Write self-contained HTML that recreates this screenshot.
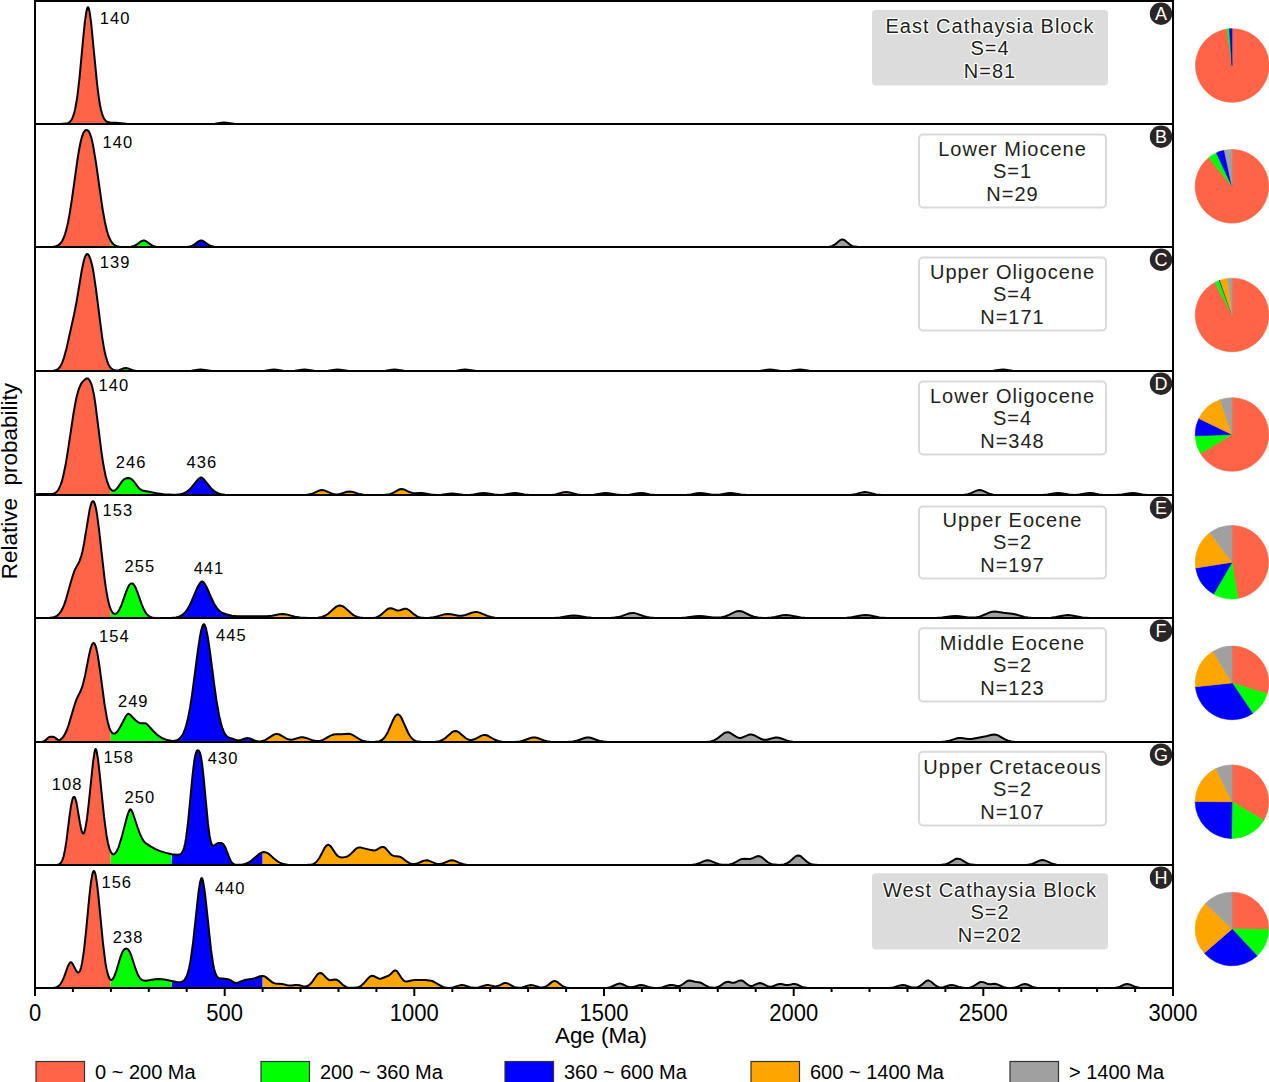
<!DOCTYPE html>
<html><head><meta charset="utf-8"><style>
html,body{margin:0;padding:0;background:#fff;width:1269px;height:1082px;overflow:hidden;position:relative}
svg text{font-family:"Liberation Sans",sans-serif}
</style></head><body>
<svg width="1269" height="1082" viewBox="0 0 1269 1082" style="position:absolute;left:0;top:0">
<polygon fill="#FF6446" points="35,124 35,124 60.5,124 66,123.6 68,123.1 70,121.7 71.5,119.8 72.5,117.9 74,113.7 75,109.8 76.5,101.8 77.5,95.1 79.5,77.8 83.5,35 85,20.8 86.5,10.9 87.5,7.6 88,7.2 88.5,7.8 89.5,11.3 91,21.5 97,83.2 98.5,95.5 100,105 101,109.8 102,113.6 103,116.4 104,118.5 105,120 106.5,121.4 108,122.1 110.5,122.5 110.9,124"/>
<polygon fill="#00FF00" points="110.9,124 111,122.5 116,122.8 125,123.7 130,123.9 171.5,124 171.6,124"/>
<polygon fill="#0000FF" points="171.6,124 172,124 211,123.9 215,123.7 221.5,122.7 224,122.5 226.5,122.7 232.5,123.6 236,123.9 262.5,124 262.6,124"/>
<polygon fill="#FFA500" points="262.6,124 263,124 566,124 566.1,124"/>
<polygon fill="#A0A0A0" points="566.1,124 566.5,124 1173,124 1173,124"/>
<path d="M35,124 L60.5,124 L66,123.6 L68,123.1 L70,121.7 L71.5,119.8 L72.5,117.9 L74,113.7 L75,109.8 L76.5,101.8 L77.5,95.1 L79.5,77.8 L83.5,35 L85,20.8 L86.5,10.9 L87.5,7.6 L88,7.2 L88.5,7.8 L89.5,11.3 L91,21.5 L97,83.2 L98.5,95.5 L100,105 L101,109.8 L102,113.6 L103,116.4 L104,118.5 L105,120 L106.5,121.4 L108,122.1 L110,122.5 L116,122.8 L126.5,123.8 L137.5,124 L210,124 L215,123.7 L221.5,122.7 L224,122.5 L226.5,122.7 L234,123.8 L242,124 L1173,124" fill="none" stroke="#000" stroke-width="2" stroke-linejoin="round"/>
<polygon fill="#FF6446" points="35,247 35,247 50.5,246.9 53.5,246.7 56,246.2 58,245.4 60,243.9 62,241.3 63.5,238.3 65,234.3 66.5,229.1 68,222.5 69.5,214.6 72,198.7 77.5,159.5 80,144.9 81.5,138.4 83,133.8 84.5,131.1 85,130.6 86,130.2 87,130.2 88,130.6 89.5,132.7 91,136.6 92.5,142.5 94,150.2 95.5,159.5 101,198.7 104,217.3 105.5,224.8 107,231 108.5,235.8 110.5,240.4 110.9,247"/>
<polygon fill="#00FF00" points="110.9,247 111,241.3 112.5,243.3 114.5,245.1 117,246.2 120,246.8 128.5,246.9 131,246.7 133,246.3 136,245 141.5,241.1 143.5,240.5 144.5,240.6 146,241.2 151.5,245.1 153,245.8 155,246.5 159.5,247 171.5,247 171.6,247"/>
<polygon fill="#0000FF" points="171.6,247 172,247 185.5,247 190,246.5 192,245.8 193.5,245 199,241.1 201,240.5 202,240.6 203.5,241.2 208,244.4 210,245.6 212,246.4 214.5,246.8 220,247 262.5,247 262.6,247"/>
<polygon fill="#FFA500" points="262.6,247 263,247 566,247 566.1,247"/>
<polygon fill="#A0A0A0" points="566.1,247 566.5,247 826,247 830,246.6 832.5,245.9 835,244.4 840,240.3 841.5,239.6 842.5,239.5 843.5,239.7 845,240.5 849.5,244.3 852,245.9 854.5,246.6 858.5,247 1173,247 1173,247"/>
<path d="M35,247 L50.5,246.9 L53.5,246.7 L56,246.2 L58,245.4 L60,243.9 L62,241.3 L63.5,238.3 L65,234.3 L66.5,229.1 L68,222.5 L69.5,214.6 L72,198.7 L77.5,159.5 L79,150.2 L80.5,142.5 L82,136.6 L83.5,132.7 L85,130.6 L85.5,130.3 L86.5,130.1 L87.5,130.3 L88.5,131.1 L90,133.8 L91.5,138.4 L93,144.9 L96,162.8 L102.5,208.6 L105,222.5 L107,231 L108,234.3 L109.5,238.3 L110.5,240.4 L112,242.7 L113.5,244.3 L115,245.4 L117,246.2 L119.5,246.7 L123,246.9 L128,246.9 L131,246.7 L133,246.3 L136,245 L141.5,241.1 L143.5,240.5 L144.5,240.6 L146,241.2 L150.5,244.4 L152.5,245.6 L154,246.2 L156,246.7 L162,247 L187.5,246.8 L190,246.5 L192.5,245.6 L194.5,244.4 L198.5,241.4 L200,240.7 L201,240.5 L202,240.6 L203.5,241.2 L208.5,244.8 L211,246 L214,246.8 L218.5,247 L824.5,247 L829.5,246.7 L832.5,245.9 L835,244.4 L840,240.3 L841.5,239.6 L842.5,239.5 L843.5,239.7 L845,240.5 L849.5,244.3 L852,245.9 L854.5,246.6 L858.5,247 L1173,247" fill="none" stroke="#000" stroke-width="2" stroke-linejoin="round"/>
<polygon fill="#FF6446" points="35,371 35,371 51,370.9 53.5,370.8 55.5,370.3 57.5,369.4 59,368.1 60.5,366 62,363.1 64,357.6 66.5,348.5 74,314.8 76.5,302.1 81,274.6 83,264.2 84,260.1 85,257 86,255 87,254.1 87.5,254.1 88,254.3 88.5,254.9 89.5,256.7 91,260.9 92.5,267 95,282 101,329.2 103.5,345.6 105,353.1 107,360.6 108.5,364.4 110.5,367.6 110.9,371"/>
<polygon fill="#00FF00" points="110.9,371 111,368.2 112,369.1 113.5,369.9 115,370.4 116.5,370.5 119.5,370.1 124,368.3 126,368 128,368.4 133,370.4 136.5,370.9 171.5,371 171.6,371"/>
<polygon fill="#0000FF" points="171.6,371 172,371 189,370.9 192.5,370.6 198.5,369.6 200.5,369.5 203,369.7 209.5,370.7 214,371 262.5,370.9 262.6,371"/>
<polygon fill="#FFA500" points="262.6,371 263,370.9 266,370.6 271.5,369.7 274,369.5 276.5,369.7 284,370.8 292,370.9 296,370.6 302,369.7 304.5,369.5 307,369.7 315,370.8 324,371 328.5,370.7 335,369.7 337.5,369.5 340,369.7 346.5,370.7 350,370.9 379.5,371 385,370.7 392,369.7 394.5,369.5 397,369.7 403,370.7 407.5,371 449.5,371 456,370.7 462.5,369.7 465,369.5 467.5,369.7 474.5,370.7 479.5,371 566,371 566.1,371"/>
<polygon fill="#A0A0A0" points="566.1,371 566.5,371 754.5,371 760.5,370.8 767.5,369.7 770,369.5 772.5,369.7 779,370.7 784.5,371 790.5,370.8 797.5,369.7 800,369.5 802.5,369.7 809.5,370.8 815.5,371 987.5,371 993.5,370.8 1000.5,369.7 1003,369.5 1005.5,369.7 1012.5,370.8 1018,371 1173,371 1173,371"/>
<path d="M35,371 L51,370.9 L53.5,370.8 L55.5,370.3 L57.5,369.4 L59,368.1 L60.5,366 L62,363.1 L64,357.6 L66.5,348.5 L74,314.8 L76.5,302.1 L81.5,271.8 L83.5,262 L84.5,258.4 L85.5,255.8 L86.5,254.4 L87,254.1 L87.5,254.1 L88,254.3 L89,255.7 L90.5,259.3 L92,264.8 L93.5,272.3 L96,289.3 L102,336.2 L104,348.3 L105.5,355.3 L107.5,362 L108.5,364.4 L110,367 L111,368.2 L112.5,369.4 L114,370.1 L116,370.5 L117.5,370.5 L119,370.3 L124,368.3 L126,368 L128,368.4 L132,370 L134,370.6 L136.5,370.9 L141,371 L187.5,370.9 L191.5,370.7 L198,369.7 L200.5,369.5 L203,369.7 L210.5,370.8 L218,371 L261,370.9 L265,370.7 L271.5,369.7 L274,369.5 L276.5,369.7 L283,370.7 L289,371 L295,370.8 L302,369.7 L304.5,369.5 L307,369.7 L314,370.8 L320.5,371 L328,370.8 L335,369.7 L337.5,369.5 L340,369.7 L347.5,370.8 L354.5,371 L382,370.9 L385.5,370.7 L392,369.7 L394.5,369.5 L397,369.7 L404,370.8 L411,371 L452.5,370.9 L456.5,370.7 L462.5,369.7 L465,369.5 L467.5,369.7 L475,370.8 L481.5,371 L754,371 L760.5,370.8 L767.5,369.7 L770,369.5 L772.5,369.7 L779.5,370.8 L785,371 L790.5,370.8 L797.5,369.7 L800,369.5 L802.5,369.7 L809.5,370.8 L815.5,371 L985,371 L993,370.8 L1000.5,369.7 L1003,369.5 L1005.5,369.7 L1012.5,370.8 L1018,371 L1173,371" fill="none" stroke="#000" stroke-width="2" stroke-linejoin="round"/>
<polygon fill="#FF6446" points="35,495 35,494.2 40.5,493.9 51,494.1 53.5,493.7 55.5,492.8 57,491.5 58.5,489.5 60,486.5 61.5,482.4 63,477.1 65.5,465.3 68,450.2 73.5,413.5 75.5,402.2 77,395.3 79,388.4 81,384 82.5,381.9 84.5,379.9 86,378.7 87,378.4 88,378.6 89,379.5 90.5,382 92,386.2 93.5,392.4 95,401.3 100.5,445.1 103.5,465.3 105,473.1 107,481.1 108.5,485.3 109.5,487.4 110.5,489 110.9,495"/>
<polygon fill="#00FF00" points="110.9,495 111,489.6 112,490.4 113,490.8 114,490.8 115,490.4 117,488.5 121.5,482.1 123.5,479.8 124.5,479 126,478.3 129,478 131,478.7 132.5,479.9 134,481.7 138.5,487.6 140,489.1 142,490.3 143.5,490.8 159.5,493.7 165.5,494.4 171.5,494.7 171.6,495"/>
<polygon fill="#0000FF" points="171.6,495 172,494.7 177,494.6 180.5,494.2 183.5,493.4 186,492.2 188.5,490.5 190.5,488.6 197,480.5 198.5,478.9 200,477.8 201,477.5 202.5,478.1 204,479.5 210,487 213,490.1 216,492.3 219.5,493.8 223.5,494.6 228.5,494.9 262.5,495 262.6,495"/>
<polygon fill="#FFA500" points="262.6,495 263,495 300.5,495 307,494.8 309.5,494.4 311.5,493.9 313.5,493.2 319,490.6 320.5,490.2 322,490 323.5,490.2 325,490.6 332,493.7 335.5,494.4 337.5,494.4 339.5,494.1 347,491.8 350,491.5 353,492 359.5,494.1 363.5,494.8 370,495 384.5,494.9 388,494.6 391,493.8 393.5,492.6 398.5,489.8 400,489.2 401.5,489 404,489.4 410,492.3 412.5,493 414.5,493.2 419.5,493 422,493 430.5,494.5 435.5,494.9 441,494.7 449,493.7 452,493.5 455,493.7 463,494.7 469.5,494.9 473.5,494.5 480.5,493.3 483.5,493 486.5,493.2 494.5,494.6 500.5,494.9 504.5,494.6 512,493.2 515,493 517.5,493.2 524.5,494.4 528.5,494.8 549,495 552.5,494.8 555.5,494.4 563,492.4 566,492 566.1,495"/>
<polygon fill="#A0A0A0" points="566.1,495 566.5,492 569.5,492.4 575,493.9 578,494.5 581,494.8 585.5,495 594,494.7 603,493.2 605.5,493 608.5,493.2 616.5,494.6 621,494.9 625.5,494.9 629.5,494.7 638,493.2 641,493 644,493.2 650,494.4 654,494.8 671.5,495 687,494.8 691,494.4 697,493.2 700,493 703,493.2 711,494.6 716.5,494.8 720.5,494.4 727.5,493.2 730,493 733,493.2 741,494.6 747,495 846,495 850.5,494.8 853.5,494.5 856.5,493.9 862,492.4 865,492 868,492.4 876,494.4 881.5,494.9 958,495 964,494.8 967.5,494.3 970.5,493.4 976.5,490.6 978,490.2 979.5,490 981,490.2 982.5,490.6 988,493.2 990.5,494.1 993.5,494.7 997.5,494.9 1042.5,494.9 1047.5,494.6 1055,493.2 1058,493 1061,493.2 1069,494.6 1075,494.9 1079.5,494.6 1087,493.2 1090,493 1093,493.2 1099,494.4 1102.5,494.8 1107,495 1115.5,495 1122,494.6 1130,493.2 1133,493 1135.5,493.2 1142.5,494.4 1147,494.9 1173,495 1173,495"/>
<path d="M35,494.2 L40.5,493.9 L51,494.1 L53.5,493.7 L55.5,492.8 L57,491.5 L58.5,489.5 L60,486.5 L61.5,482.4 L63,477.1 L65.5,465.3 L68,450.2 L73.5,413.5 L75.5,402.2 L77,395.3 L79,388.4 L81,384 L82.5,381.9 L84.5,379.9 L86,378.7 L87,378.4 L88,378.6 L89,379.5 L90.5,382 L91.5,384.6 L92.5,388.1 L94,394.9 L95.5,405 L101.5,452.4 L103.5,465.3 L105.5,475.4 L107,481.1 L109,486.4 L110,488.3 L111,489.6 L112,490.4 L113,490.8 L114.5,490.6 L115.5,490 L116.5,489.1 L118,487.2 L122,481.4 L124,479.3 L126,478.3 L128.5,478 L130.5,478.5 L132,479.5 L134,481.7 L137.5,486.4 L139,488.2 L140.5,489.5 L142.5,490.5 L156.5,493.2 L163.5,494.2 L173,494.7 L177,494.6 L180,494.3 L182.5,493.7 L184.5,493 L186.5,491.9 L188,490.9 L191.5,487.5 L198,479.4 L199.5,478.1 L201,477.5 L202,477.8 L203.5,479 L211,488.1 L213,490.1 L215.5,492 L218.5,493.5 L221.5,494.3 L225,494.7 L230,494.9 L305.5,494.9 L308.5,494.6 L311,494.1 L313.5,493.2 L319,490.6 L320.5,490.2 L322,490 L323.5,490.2 L325,490.6 L332,493.7 L335.5,494.4 L337.5,494.4 L339.5,494.1 L347,491.8 L350,491.5 L353,492 L359.5,494.1 L363.5,494.8 L369.5,495 L384,494.9 L387.5,494.6 L390.5,493.9 L393,492.9 L398.5,489.8 L400,489.2 L401.5,489 L404,489.4 L410,492.3 L412.5,493 L414.5,493.2 L419.5,493 L422,493 L431,494.6 L436.5,494.9 L441.5,494.7 L449,493.7 L452,493.5 L455,493.7 L463,494.7 L469.5,494.9 L473.5,494.5 L480.5,493.3 L483.5,493 L486.5,493.2 L494.5,494.6 L500.5,494.9 L504.5,494.6 L512,493.2 L515,493 L517.5,493.2 L524.5,494.4 L528.5,494.8 L549,495 L552.5,494.8 L555.5,494.4 L563.5,492.3 L566.5,492 L569.5,492.4 L577.5,494.5 L580.5,494.8 L585,495 L594,494.7 L603,493.2 L605.5,493 L608.5,493.2 L616.5,494.6 L621,494.9 L625.5,494.9 L629.5,494.7 L638,493.2 L641,493 L644,493.2 L650,494.4 L654,494.8 L671.5,495 L687,494.8 L691,494.4 L697,493.2 L700,493 L703,493.2 L711,494.6 L716.5,494.8 L720.5,494.4 L727.5,493.2 L730,493 L733,493.2 L741,494.6 L747,495 L845,495 L850,494.9 L853.5,494.5 L856.5,493.9 L862,492.4 L865,492 L868,492.4 L876,494.4 L881.5,494.9 L959,495 L964.5,494.8 L968,494.2 L971,493.2 L976.5,490.6 L978,490.2 L979.5,490 L981,490.2 L982.5,490.6 L988,493.2 L990.5,494.1 L993.5,494.7 L997.5,494.9 L1042.5,494.9 L1047.5,494.6 L1055,493.2 L1058,493 L1061,493.2 L1069,494.6 L1075,494.9 L1079.5,494.6 L1087,493.2 L1090,493 L1093,493.2 L1099,494.4 L1102.5,494.8 L1107,495 L1115.5,495 L1122,494.6 L1130,493.2 L1133,493 L1135.5,493.2 L1142.5,494.4 L1147,494.9 L1173,495" fill="none" stroke="#000" stroke-width="2" stroke-linejoin="round"/>
<polygon fill="#FF6446" points="35,618 35,618 49,617.9 52,617.6 54.5,617 57,615.8 59,614 61,611.3 62.5,608.6 64,605.1 66,599.3 72,578.1 74,572 75.5,568.4 78.5,563.2 79.5,561.1 81.5,555.2 82.5,551.2 84,543.7 89.5,510.3 90.5,506 91.5,502.9 92.5,501.3 93,501.2 93.5,501.4 94,502 95,504.4 96,508.5 97,514.2 99,529.3 103.5,570 105.5,585.5 108,599.9 109,604.1 110.5,608.8 110.9,618"/>
<polygon fill="#00FF00" points="110.9,618 111,610 112.5,612.5 113.5,613.4 114.5,613.9 116,613.6 117,612.9 118,611.8 119.5,609.4 121,606.1 126,592.1 128,587.3 129,585.4 130,584.2 131,583.5 132,583.4 133,583.8 133.5,584.3 134.5,585.6 135.5,587.5 137,591.1 141,602.6 143,607.7 145.5,612.4 146.5,613.8 148,615.4 150.5,616.9 152,617.4 154,617.8 160,618 171.5,617.8 171.6,618"/>
<polygon fill="#0000FF" points="171.6,618 172,617.8 176.5,617.3 180,616.2 183,614.4 185.5,611.9 187.5,609.2 190,604.6 192,600.3 196.5,589.4 198.5,585.2 200.5,582.3 201.5,581.6 202,581.4 202.5,581.5 203.5,582.2 205.5,585 207.5,589 212.5,600.5 215.5,606.1 217,608.3 218.5,610 220,611.4 222,612.7 224.5,613.9 227.5,614.8 231.5,615.6 235.5,616.1 239.5,616.3 262.5,616.2 262.6,618"/>
<polygon fill="#FFA500" points="262.6,618 263,616.2 270,615.9 279.5,614.2 283,614 286.5,614.4 295,616.8 300,617.6 304,617.9 310,618 315.5,617.9 319,617.6 322.5,616.8 325.5,615.5 328.5,613.5 334,608.5 336,606.9 338,605.8 340,605.5 342,605.9 344,607 351.5,613.6 355,615.9 357,616.7 359,617.3 364,617.9 372.5,617.9 375,617.6 377.5,616.9 379.5,615.9 381,614.8 386,610.3 387.5,609.2 389,608.4 390.5,608.2 392.5,608.6 396.5,610.2 398,610.5 400,610.2 404.5,608.8 406,608.7 407,609 409.5,610.4 414.5,614.7 417,616.3 420,617.4 423.5,617.8 428.5,617.8 433,617.3 436.5,616.6 443.5,614.6 447,614 451,614.2 458.5,615.7 462,615.8 465.5,615 472.5,612.5 475.5,612 477.5,612.1 480,612.8 487,615.7 490,616.8 493.5,617.5 497.5,617.8 506.5,618 552,617.9 559,617.6 566,616.5 566.1,618"/>
<polygon fill="#A0A0A0" points="566.1,618 566.5,616.4 571,615.7 575,615.5 578.5,615.9 587,617.3 591.5,617.8 600.5,618 611.5,617.8 615,617.6 618.5,616.9 621.5,616.1 628.5,613.6 630.5,613.2 632.5,613 634.5,613.1 636.5,613.6 644,616.2 647,617 650,617.5 653.5,617.8 663.5,618 681,617.9 686,617.5 695.5,616.3 699.5,616 703.5,616.2 713,617.5 718,617.6 721.5,617.3 725,616.5 728,615.3 735,611.9 737,611.2 739,611 741,611.2 743,611.8 750.5,615.5 754,616.8 757.5,617.5 762,617.9 766.5,617.8 771,617.5 775,616.9 782.5,615.3 786.5,615 790.5,615.4 801,617.4 805,617.8 810,618 838,618 846.5,617.8 851.5,617.3 861,615.4 865,615 869,615.3 879.5,617.4 887,617.9 936,617.9 942,617.5 951.5,616.3 955.5,616 959.5,616.2 968.5,617.4 972.5,617.6 976,617.3 979,616.7 982,615.7 990,612.3 992.5,611.7 994.5,611.6 997,611.8 1003.5,612.8 1012,613.7 1015,614.3 1024.5,617 1028,617.6 1032.5,617.9 1044,618 1051,617.7 1056,617 1064,615.4 1068,615 1072,615.4 1082.5,617.4 1089.5,617.9 1173,618 1173,618"/>
<path d="M35,618 L49,617.9 L52,617.6 L54.5,617 L57,615.8 L59,614 L61,611.3 L62.5,608.6 L64,605.1 L66,599.3 L72,578.1 L74,572 L75.5,568.4 L78.5,563.2 L79.5,561.1 L81.5,555.2 L82.5,551.2 L84,543.7 L89.5,510.3 L90.5,506 L91.5,502.9 L92.5,501.3 L93,501.2 L93.5,501.4 L94,502 L95,504.4 L96,508.5 L97,514.2 L99,529.3 L104.5,578.1 L106,588.8 L107.5,597.5 L109,604.1 L110,607.4 L111,610 L112.5,612.5 L113.5,613.4 L114.5,613.9 L115.5,613.8 L116.5,613.3 L117.5,612.4 L119,610.3 L121.5,604.9 L126,592.1 L128,587.3 L129,585.4 L130,584.2 L131,583.5 L132,583.4 L133,583.8 L133.5,584.3 L134.5,585.6 L135.5,587.5 L137.5,592.4 L141.5,603.9 L144,609.8 L146,613.2 L147,614.4 L148.5,615.8 L150,616.7 L152,617.4 L154,617.8 L157,617.9 L172,617.8 L176,617.4 L179,616.6 L181.5,615.4 L183.5,614 L185.5,611.9 L187.5,609.2 L189,606.6 L191,602.5 L198,586.2 L200,582.9 L201,581.9 L202,581.4 L202.5,581.5 L203.5,582.2 L205.5,585 L207,587.9 L211.5,598.3 L214,603.5 L216.5,607.6 L219,610.5 L222,612.7 L226,614.3 L232,615.7 L237.5,616.3 L268,616.1 L272,615.7 L279.5,614.2 L282.5,613.9 L286.5,614.4 L295,616.8 L300,617.6 L308.5,618 L318,617.7 L322,617 L325.5,615.5 L328.5,613.5 L334,608.5 L336,606.9 L338,605.8 L340,605.5 L342,605.9 L344,607 L351.5,613.6 L353.5,615.1 L355.5,616.1 L357.5,616.9 L360,617.5 L363,617.8 L367,618 L374,617.7 L376,617.4 L378,616.7 L381,614.8 L387,609.5 L389,608.4 L390.5,608.2 L392.5,608.6 L396.5,610.2 L398,610.5 L400,610.2 L404.5,608.8 L406,608.7 L407,609 L409.5,610.4 L414.5,614.7 L417,616.3 L418.5,617 L420.5,617.5 L425,617.9 L429.5,617.7 L433.5,617.2 L437,616.4 L443.5,614.6 L447,614 L451,614.2 L458.5,615.7 L462,615.8 L465.5,615 L472.5,612.5 L475.5,612 L477.5,612.1 L479.5,612.6 L487.5,615.9 L491,617 L495,617.7 L500,617.9 L554,617.9 L560,617.5 L570,615.8 L574,615.5 L577.5,615.7 L586.5,617.3 L591.5,617.8 L599.5,618 L610.5,617.9 L614.5,617.6 L618,617.1 L621.5,616.1 L628.5,613.6 L630.5,613.2 L632.5,613 L634.5,613.1 L636.5,613.6 L644,616.2 L647,617 L650,617.5 L653.5,617.8 L663.5,618 L681,617.9 L686,617.5 L695.5,616.3 L699.5,616 L703.5,616.2 L713,617.5 L717.5,617.6 L721.5,617.3 L725,616.5 L728,615.3 L735,611.9 L737,611.2 L739,611 L741,611.2 L743,611.8 L750.5,615.5 L754,616.8 L758,617.6 L763,617.9 L767.5,617.8 L771.5,617.5 L775,616.9 L782.5,615.3 L786.5,615 L790.5,615.4 L801,617.4 L805,617.8 L810,618 L838,618 L846.5,617.8 L851.5,617.3 L861,615.4 L865,615 L869,615.3 L879.5,617.4 L887,617.9 L936,617.9 L942,617.5 L951.5,616.3 L955.5,616 L959.5,616.2 L968.5,617.4 L973,617.6 L976.5,617.3 L979.5,616.6 L982.5,615.5 L990,612.3 L992.5,611.7 L994.5,611.6 L997,611.8 L1003.5,612.8 L1012,613.7 L1015,614.3 L1024.5,617 L1028,617.6 L1032.5,617.9 L1044,618 L1051,617.7 L1056,617 L1064,615.4 L1068,615 L1072,615.4 L1082.5,617.4 L1089.5,617.9 L1173,618" fill="none" stroke="#000" stroke-width="2" stroke-linejoin="round"/>
<polygon fill="#FF6446" points="35,742 35,742 41.5,742 43.5,741.6 45,740.7 48.5,737.4 49.5,737 50.5,736.8 52.5,736.7 54,737 55,737.6 57.5,739.6 58.5,740 59.5,740 60.5,739.6 62,738.3 63.5,736.5 64.5,734.9 66.5,730.8 68.5,725.4 74,706.8 76,700.7 77.5,697.1 80.5,691.3 82.5,685.9 85,675.9 89,655.4 90.5,648.9 92,644.5 93,643.2 93.5,643 94,643.2 94.5,643.6 95.5,645.6 96.5,649.1 97.5,653.8 99.5,666.5 103.5,696.9 105.5,710.4 107,718.6 108,723 109,726.6 110.5,730.5 110.9,742"/>
<polygon fill="#00FF00" points="110.9,742 111,731.4 112,732.7 113.5,733.6 115,733.4 116.5,732.3 118,730.5 119.5,728.2 126,716 127.5,714.1 128,713.8 128.5,713.8 129.5,714.3 130.5,715 135.5,720.3 138,722.2 139.5,722.9 141,723.2 145,723.3 146,723.5 148,725.3 155,732.9 158,735.5 160.5,737.2 163,738.6 166,739.8 169,740.5 171.5,740.8 171.6,742"/>
<polygon fill="#0000FF" points="171.6,742 172,740.9 174.5,740.8 177,740.1 179,739 180.5,737.6 182,735.6 183.5,732.9 185,729.1 186.5,724.3 189,713.3 191.5,698.6 198,649.6 200,636.5 201,631.3 202,627.4 203,624.9 203.5,624.3 204,624.2 204.5,624.7 205,625.5 206,628.5 208,638.3 210,651.9 215.5,693.9 218.5,712.4 221,723.6 222.5,728.5 224,732.2 226,735.4 228,737.1 237,740.2 238.5,740.4 240,740.2 245,738.4 247.5,738 249.5,738.4 254.5,740.5 257,741.2 259.5,741.4 262.5,741 262.6,742"/>
<polygon fill="#FFA500" points="262.6,742 263,740.8 266.5,739.3 273.5,734.8 275,734.3 276.5,734 278,734.1 280,734.8 286.5,738.6 289.5,739.6 291,739.7 293,739.5 299.5,737.6 301.5,737.3 303,737.3 306,737.9 313.5,740.6 315.5,741 317.5,741.1 320,740.9 322.5,740.1 325,738.9 330.5,735.6 333.5,734.5 336,734.2 341.5,734.3 348,733.8 350.5,734.1 352.5,734.9 360,739.5 362,740.4 364,741.1 367,741.6 370.5,741.9 375,741.9 378,741.5 380,740.9 382,739.8 383.5,738.6 385,736.8 386.5,734.5 388,731.6 392.5,721.3 394.5,717.3 395.5,715.9 396.5,714.9 397.5,714.4 398,714.4 398.5,714.5 399.5,715.2 400.5,716.4 401.5,718 403,721.1 407.5,731.4 409,734.3 410.5,736.7 412,738.5 414,740.1 416,741.1 418,741.6 422.5,741.9 432,742 436.5,741.7 439.5,741.1 442,740.2 444.5,738.7 452,732.2 454,731.2 455.5,731 457,731.3 459,732.4 464.5,737.2 466.5,738.7 468.5,739.6 470,740 471.5,740 473.5,739.6 475.5,738.8 481,735.8 483,735.2 484.5,735 486,735.2 488,735.8 494,739.2 497,740.6 500,741.4 503,741.8 512.5,742 519,741.5 523.5,740.5 530.5,738 532.5,737.6 534,737.5 535.5,737.6 537.5,738 544.5,740.5 549,741.5 554.5,741.9 566,742 566.1,742"/>
<polygon fill="#A0A0A0" points="566.1,742 566.5,742 571.5,741.7 575,741.2 578,740.4 584.5,738 586.5,737.6 588,737.5 589.5,737.6 591.5,738 597.5,740.2 600.5,741.1 603.5,741.6 607.5,741.9 697,742 707,741.9 711,741.3 714.5,740.2 717.5,738.3 722,734.6 724,733.2 726,732.4 727.5,732.2 728.5,732.3 730,732.8 736,736.7 737.5,737.4 739,737.8 740.5,737.9 742,737.6 748.5,734.8 750,734.5 751.5,734.5 754,735.2 760.5,738.7 763.5,739.7 765,739.8 767,739.7 773.5,737.9 775.5,737.5 777,737.5 780,738 786.5,740.4 789.5,741.2 793,741.7 797.5,742 941,741.9 945,741.6 948,741.1 956,738.6 958.5,738.1 961.5,738 968,739 971.5,739 979.5,737.4 986,736.3 992,734.8 994,734.6 996,734.8 998,735.4 1005,739.4 1008,740.7 1011.5,741.5 1015.5,741.9 1173,742 1173,742"/>
<path d="M35,742 L41.5,742 L43.5,741.6 L45,740.7 L48.5,737.4 L49.5,737 L50.5,736.8 L52.5,736.7 L54,737 L55,737.6 L57.5,739.6 L58.5,740 L59.5,740 L60.5,739.6 L62,738.3 L63.5,736.5 L64.5,734.9 L66.5,730.8 L68.5,725.4 L74,706.8 L76,700.7 L77.5,697.1 L80.5,691.3 L82.5,685.9 L85,675.9 L89,655.4 L90.5,648.9 L92,644.5 L93,643.2 L93.5,643 L94,643.2 L94.5,643.6 L95.5,645.6 L96.5,649.1 L97.5,653.8 L99.5,666.5 L104.5,704 L107,718.6 L108,723 L109.5,728.1 L110.5,730.5 L112,732.7 L113,733.5 L114.5,733.6 L115.5,733.2 L117,731.8 L118.5,729.8 L120,727.3 L126,716 L127.5,714.1 L128,713.8 L128.5,713.8 L129.5,714.3 L130.5,715 L135.5,720.3 L138,722.2 L139.5,722.9 L141,723.2 L145,723.3 L146,723.5 L147.5,724.8 L153,730.8 L156,733.8 L159,736.2 L162.5,738.3 L167,740.1 L171.5,740.8 L173.5,740.9 L175.5,740.6 L177,740.1 L178.5,739.3 L180,738.1 L181,737 L182.5,734.8 L183.5,732.9 L185,729.1 L186,726.1 L188,718.2 L190,707.9 L192,695.2 L198,649.6 L200,636.5 L201,631.3 L202,627.4 L203,624.9 L203.5,624.3 L204,624.2 L204.5,624.7 L205,625.5 L206,628.5 L208,638.3 L210,651.9 L214.5,686.7 L216.5,700.7 L219,715 L221.5,725.4 L222.5,728.5 L224,732.2 L225.5,734.8 L227,736.4 L229,737.6 L232.5,738.6 L236.5,740.1 L238,740.4 L240.5,740.1 L245,738.4 L247.5,738 L250,738.5 L254.5,740.5 L256.5,741.1 L258.5,741.4 L261,741.3 L263.5,740.7 L265.5,739.8 L273.5,734.8 L275.5,734.1 L277,734 L278.5,734.2 L280,734.8 L286.5,738.6 L289.5,739.6 L291,739.7 L293,739.5 L299.5,737.6 L301.5,737.3 L303,737.3 L306,737.9 L313.5,740.6 L316,741 L318,741.1 L320.5,740.7 L323,739.9 L330.5,735.6 L333.5,734.5 L336,734.2 L341.5,734.3 L348,733.8 L350.5,734.1 L352.5,734.9 L360,739.5 L362,740.4 L364,741.1 L366.5,741.6 L370,741.9 L374.5,741.9 L377.5,741.6 L379.5,741.1 L381.5,740.2 L383.5,738.6 L385,736.8 L386.5,734.5 L388,731.6 L392.5,721.3 L394.5,717.3 L395.5,715.9 L396.5,714.9 L397.5,714.4 L398,714.4 L398.5,714.5 L399.5,715.2 L400.5,716.4 L401.5,718 L408,732.5 L410,736 L411.5,737.9 L413.5,739.8 L415.5,740.9 L418,741.6 L422,741.9 L434.5,741.9 L437.5,741.6 L440,741 L442.5,739.9 L444.5,738.7 L452,732.2 L454,731.2 L455.5,731 L457,731.3 L458.5,732.1 L465.5,738 L467.5,739.2 L469.5,739.9 L471.5,740 L473.5,739.6 L475.5,738.8 L481.5,735.6 L483.5,735.1 L485,735 L486.5,735.3 L488,735.8 L494.5,739.5 L498,740.9 L502,741.7 L507,742 L515,741.9 L520,741.4 L523.5,740.5 L530.5,738 L532.5,737.6 L534,737.5 L535.5,737.6 L537.5,738 L544,740.4 L547,741.2 L550.5,741.7 L554.5,741.9 L567,741.9 L573,741.5 L577.5,740.5 L584.5,738 L586.5,737.6 L588,737.5 L589.5,737.6 L591.5,738 L597.5,740.2 L600.5,741.1 L603.5,741.6 L607.5,741.9 L706,741.9 L710.5,741.4 L714,740.4 L717,738.7 L724,733.2 L726,732.4 L727.5,732.2 L728.5,732.3 L730,732.8 L736,736.7 L737.5,737.4 L739,737.8 L740.5,737.9 L742,737.6 L748.5,734.8 L750,734.5 L751.5,734.5 L754,735.2 L760.5,738.7 L763.5,739.7 L765,739.8 L767,739.7 L773.5,737.9 L775.5,737.5 L777,737.5 L780,738 L786.5,740.4 L789.5,741.2 L793,741.7 L797.5,742 L941,741.9 L945,741.6 L948,741.1 L956,738.6 L958.5,738.1 L961.5,738 L968,739 L971.5,739 L979.5,737.4 L986,736.3 L992,734.8 L994,734.6 L996,734.8 L998,735.4 L1005,739.4 L1008,740.7 L1011.5,741.5 L1015.5,741.9 L1173,742" fill="none" stroke="#000" stroke-width="2" stroke-linejoin="round"/>
<polygon fill="#FF6446" points="35,865 35,865 53.5,865 57,864.8 58.5,864.5 59.5,864.1 60.5,863.2 61.5,861.9 62.5,859.8 63.5,856.8 65,850 66.5,840.4 69.5,816.3 71,805.8 72.5,799.1 73,797.9 73.5,797.2 74,797 74.5,797.1 75,797.7 75.5,798.9 76.5,802.6 80,823.4 81.5,830.5 82.5,833.1 83,833.5 83.5,833.5 84,832.9 84.5,831.7 85.5,827.8 87,818.4 88.5,805.8 93,762.3 94.5,752.3 95,750.2 95.5,749.1 96,749.2 96.5,750.6 98,759.3 99.5,772.3 103.5,812 106,832 108,843.2 109,847.2 110.5,851.4 110.9,865"/>
<polygon fill="#00FF00" points="110.9,865 111,852.4 111.5,853.1 112.5,854.1 113,854.3 114,854.2 115.5,853 116.5,851.6 117.5,849.7 119,846 121,839.7 127.5,815.1 129,811 130,809.4 130.5,809.3 131.5,810.3 133,813.5 138,828.7 140.5,835.3 142.5,839.3 144.5,842.1 147,844.2 152.5,847.6 156.5,849.6 163.5,852.2 171.5,854.2 171.6,865"/>
<polygon fill="#0000FF" points="171.6,865 172,854.3 178,854.8 179.5,854.6 180.5,854.2 181.5,853.3 182.5,851.9 183.5,849.5 184.5,846.1 186,838.4 187.5,827.3 192.5,775.8 194,763 195,756.8 196,752.7 197,750.6 197.5,750.3 198,750.2 199,750.9 200,752.9 201,757 202,763.2 203.5,776.1 207,814.1 208.5,828.2 210,838.3 211,842.5 212,844.8 212.5,845.4 213.5,845.7 214.5,845.3 217,843.5 218,843 219,842.9 221.5,843.1 223,843.9 224,845.1 225.5,847.8 229.5,858.2 231,861.3 232,862.8 233,863.7 234,864.3 235.5,864.8 238.5,864.8 242,864.5 245,863.9 247.5,863 249.5,862 251.5,860.6 259.5,853.7 261,852.8 262.5,852.2 262.6,865"/>
<polygon fill="#FFA500" points="262.6,865 263,852.1 264,852 265.5,852.2 268,853.4 270,854.9 276,860.2 278,861.7 280,862.8 282,863.6 284.5,864.3 290,864.9 308.5,864.9 311.5,864.5 314,863.7 316,862.3 318,860 320,856.8 323.5,849.9 325,847.3 326.5,845.5 328,844.8 329,845 330.5,846.1 332,848.1 335.5,853.5 337.5,855.8 339.5,857 341.5,857.4 343.5,857.3 345.5,857 347,856.5 348.5,855.8 351,853.8 355.5,849.2 357,848.1 358.5,847.6 359.5,847.5 361,847.6 371.5,850.1 374,850.4 375.5,850.2 376.5,849.8 381,847.2 382,846.9 383,846.9 384,847.2 385.5,848.2 390,853.4 391.5,854.8 392.5,855.4 394,856 398.5,856.4 400.5,857 402.5,858.2 406.5,861.3 408.5,862.7 410.5,863.6 413,864.1 414.5,864.1 416.5,863.7 418.5,863 423.5,860.9 425,860.4 426.5,860.3 428,860.4 429.5,860.8 434.5,863 436.5,863.7 438.5,864 440.5,863.9 443.5,863.2 449.5,860.7 452,860.3 453.5,860.4 455,860.9 460.5,863.3 463,864.1 465.5,864.6 469,864.9 566,865 566.1,865"/>
<polygon fill="#A0A0A0" points="566.1,865 566.5,865 690,864.9 693.5,864.7 696.5,864.2 699,863.3 704.5,860.9 706,860.5 707.5,860.3 709,860.4 710.5,860.8 716,863.2 719,864.2 722.5,864.8 726.5,864.8 729.5,864.5 732.5,863.7 735,862.5 739.5,859.9 742,858.9 744,858.7 748.5,859.1 750.5,858.9 752.5,858.3 756.5,856.4 758.5,856.1 760,856.4 761.5,857.1 767.5,862 770.5,863.7 772.5,864.4 774.5,864.7 780,864.9 784,864.4 787,863.3 789.5,861.7 795,856.8 796.5,855.9 798,855.5 799.5,855.7 801,856.5 807,861.8 810,863.6 811.5,864.2 813.5,864.6 818,865 940.5,864.9 944,864.6 946.5,863.9 949,862.9 955,859.3 956.5,858.8 958,858.7 959.5,858.9 961,859.5 966.5,862.8 969,863.9 972,864.6 976,864.9 1019.5,865 1027,864.8 1029.5,864.5 1032,863.9 1034,863.2 1039.5,860.6 1041,860.2 1042.5,860 1044,860.2 1045.5,860.6 1051,863.2 1053.5,864.1 1056.5,864.7 1060,864.9 1173,865 1173,865"/>
<path d="M35,865 L53.5,865 L57,864.8 L58.5,864.5 L59.5,864.1 L60.5,863.2 L61.5,861.9 L62.5,859.8 L63.5,856.8 L65,850 L66.5,840.4 L69.5,816.3 L71,805.8 L72.5,799.1 L73,797.9 L73.5,797.2 L74,797 L74.5,797.1 L75,797.7 L75.5,798.9 L76.5,802.6 L80,823.4 L81.5,830.5 L82.5,833.1 L83,833.5 L83.5,833.5 L84,832.9 L84.5,831.7 L85.5,827.8 L87,818.4 L88.5,805.8 L93,762.3 L94.5,752.3 L95,750.2 L95.5,749.1 L96,749.2 L96.5,750.6 L98,759.3 L99.5,772.3 L104,816.4 L106.5,835.2 L108,843.2 L109.5,848.8 L111,852.4 L112,853.7 L113,854.3 L114,854.2 L115.5,853 L117,850.7 L118.5,847.3 L121.5,837.9 L127.5,815.1 L129,811 L130,809.4 L130.5,809.3 L131.5,810.3 L133,813.5 L138,828.7 L140.5,835.3 L143,840.1 L144,841.5 L145.5,843.1 L151,846.7 L155,848.9 L159.5,850.9 L165,852.6 L171.5,854.2 L177,854.8 L179.5,854.6 L180.5,854.2 L181.5,853.3 L183,850.8 L184,848 L185,843.9 L186,838.4 L188,822.8 L192.5,775.8 L194,763 L195,756.8 L196,752.7 L197,750.6 L197.5,750.3 L198,750.2 L199,750.9 L200,752.9 L201,757 L202,763.2 L203.5,776.1 L208,823.9 L209.5,835.4 L211,842.5 L212,844.8 L213,845.7 L214,845.6 L217,843.5 L218.5,842.9 L221.5,843.1 L223,843.9 L224,845.1 L225.5,847.8 L229.5,858.2 L231,861.3 L232,862.8 L233,863.7 L234.5,864.5 L236,864.8 L239,864.8 L242.5,864.5 L245,863.9 L247.5,863 L249.5,862 L251.5,860.6 L258,854.9 L260,853.4 L262,852.4 L264,852 L266,852.4 L268,853.4 L270,854.9 L275,859.4 L277.5,861.3 L280.5,863 L283.5,864.1 L287.5,864.7 L292.5,865 L306.5,865 L311.5,864.5 L313,864.1 L314.5,863.4 L316,862.3 L317,861.3 L319.5,857.7 L325,847.3 L326.5,845.5 L328,844.8 L329,845 L330.5,846.1 L332,848.1 L335.5,853.5 L337.5,855.8 L339.5,857 L341.5,857.4 L343.5,857.3 L345.5,857 L347,856.5 L348.5,855.8 L351,853.8 L355.5,849.2 L357,848.1 L358.5,847.6 L359.5,847.5 L361,847.6 L371.5,850.1 L374,850.4 L375.5,850.2 L376.5,849.8 L381,847.2 L382,846.9 L383,846.9 L384,847.2 L385.5,848.2 L390,853.4 L391.5,854.8 L392.5,855.4 L394,856 L398.5,856.4 L400.5,857 L402.5,858.2 L407,861.7 L409,862.9 L411,863.7 L413.5,864.1 L415,864 L417,863.6 L423,861 L425.5,860.4 L427,860.3 L428.5,860.6 L435.5,863.4 L437.5,863.9 L439.5,864 L442.5,863.5 L449,860.8 L450.5,860.4 L452,860.3 L453.5,860.4 L455,860.9 L460.5,863.3 L463.5,864.3 L466.5,864.7 L470.5,865 L688,865 L692.5,864.8 L696,864.3 L699,863.3 L704.5,860.9 L706,860.5 L707.5,860.3 L709,860.4 L710.5,860.8 L716,863.2 L719,864.2 L722,864.7 L726,864.8 L729.5,864.5 L732.5,863.7 L735,862.5 L739.5,859.9 L742,858.9 L744,858.7 L748.5,859.1 L750.5,858.9 L752.5,858.3 L756.5,856.4 L758.5,856.1 L760,856.4 L761.5,857.1 L767.5,862 L770.5,863.7 L774,864.6 L779.5,864.9 L784,864.4 L787,863.3 L789.5,861.7 L795,856.8 L796.5,855.9 L798,855.5 L799.5,855.7 L801,856.5 L807,861.8 L810,863.6 L811.5,864.2 L813.5,864.6 L818,865 L940.5,864.9 L944,864.6 L946.5,863.9 L949,862.9 L955,859.3 L956.5,858.8 L958,858.7 L959.5,858.9 L961,859.5 L966.5,862.8 L969,863.9 L972,864.6 L976,864.9 L1019.5,865 L1027,864.8 L1029.5,864.5 L1032,863.9 L1034,863.2 L1039.5,860.6 L1041,860.2 L1042.5,860 L1044,860.2 L1045.5,860.6 L1051,863.2 L1053.5,864.1 L1056.5,864.7 L1060,864.9 L1173,865" fill="none" stroke="#000" stroke-width="2" stroke-linejoin="round"/>
<polygon fill="#FF6446" points="35,988 35,988 53,987.9 56,987.4 57.5,986.8 58.5,986.1 60.5,984.1 62,981.6 64,977.1 68,966 69.5,963.2 70.5,962.3 71,962.2 71.5,962.5 72.5,963.6 76,970.4 77.5,972.3 78,972.5 78.5,972.5 79,972.2 80,970.7 81,967.8 82,963.4 84,950.1 86,931.6 89.5,894.9 91,882 92.5,873.6 93,872.1 93.5,871.2 94,871 94.5,871.5 95.5,874.4 97,883.5 98.5,896.8 103,943.5 105.5,963.2 106.5,968.8 108,975 109,977.6 109.5,978.5 110.5,979.7 110.9,988"/>
<polygon fill="#00FF00" points="110.9,988 111,979.9 111.5,979.9 112.5,979.3 113.5,977.9 114.5,975.9 116.5,970.3 120.5,956.9 122.5,951.9 123.5,950.2 124.5,949.2 125.5,948.7 126.5,948.6 127.5,948.9 128.5,949.8 130,952.4 131.5,956.2 135.5,968.7 137,972.8 139,976.8 140,978.2 141.5,979.7 143.5,980.5 145.5,980.7 155.5,979.2 159,979 164,979.6 171.5,981 171.6,988"/>
<polygon fill="#0000FF" points="171.6,988 172,981.1 176.5,981.9 179,982.2 181,982 182.5,981.5 184,980.5 185.5,978.5 187,975.4 188,972.4 190,963.7 192,951 193.5,938.8 197.5,900.9 199,888.7 200.5,880.5 201,878.9 201.5,878.1 202,878.3 202.5,879.3 203,881 204.5,889.8 206,902.5 210,941.2 212.5,960.4 214.5,970.4 215.5,973.7 216.5,975.8 217.5,977.2 219,978.1 228.5,979.3 230.5,980.2 234,982.5 235,982.9 236,983 238,982.6 242,980.9 244.5,980.1 252.5,978.8 255,978.1 260,976.2 262.5,975.9 262.6,988"/>
<polygon fill="#FFA500" points="262.6,988 263,975.9 264,976.2 265.5,976.9 272,982.1 273.5,982.9 275,983.4 282,983.9 287.5,985.3 289.5,985.6 291.5,985.5 295.5,984.9 297.5,984.9 299.5,985.3 303.5,986.4 305.5,986.5 307,986.3 308,985.8 310,984.4 312,982.1 316,976.3 317.5,974.4 319,973.3 320.5,973 321.5,973.2 322.5,973.9 327,978.5 329,979.9 330.5,980.2 334.5,979.5 336.5,979.7 338.5,980.8 343,985 345.5,986.7 347,987.3 349,987.7 353.5,987.9 357.5,987.4 359.5,986.6 361,985.8 363.5,983.6 368.5,977.9 370,976.6 371,976.1 372,975.8 373.5,976 378.5,978.4 380,978.7 381.5,978.5 388.5,975.8 390.5,974.3 393.5,971.3 394.5,970.6 395.5,970.4 396.5,970.8 397.5,971.7 402,978.8 403.5,980.4 405,981.3 407,981.5 412.5,980.3 416,980 425.5,980 429.5,980.4 432,981 434,981.8 440.5,985.7 442.5,986.7 444.5,987.4 446.5,987.8 449.5,987.8 452.5,987.5 455,986.9 459.5,985.4 462,985 464.5,985.4 470.5,987.3 474,987.8 476.5,987.7 478.5,987.4 485,985.4 487,985 489,985.1 494,986.3 496,986.4 498.5,985.8 503.5,983.3 505.5,983 506.5,983.1 508,983.6 514,986.9 517,987.6 519.5,987.7 522,987.4 528.5,985.4 531,985 533.5,985.4 539.5,987.2 542.5,987.4 544.5,987 546,986.4 548,985.1 552,981.9 553.5,981.2 554.5,981 555.5,981.1 557,981.8 562.5,986 564,986.8 566,987.5 566.1,988"/>
<polygon fill="#A0A0A0" points="566.1,988 566.5,987.6 569,987.9 573,988 606.5,987.9 609,987.5 611,987 617,984.1 619.5,983.5 620.5,983.6 622,984 627,986.4 630,987.2 633,987.1 639,985.3 641.5,985 644,985.4 648.5,986.9 651,987.5 654,987.9 658,987.9 662,987.4 668,985.4 670,985 672.5,985.1 677,986.1 679.5,986 682,984.8 687,981.1 688,980.7 689.5,980.5 691,980.7 695,981.7 700,982.5 702,983.3 706.5,986 708.5,986.9 711,987.6 714,987.7 716.5,987.4 718.5,986.7 720.5,985.6 724.5,982.8 726.5,982 728.5,981.8 732,982.7 734,982.7 735.5,982.3 739,980.7 740.5,980.4 741.5,980.4 743,981 748,984.9 749.5,985.7 750.5,985.9 751.5,986 753,985.7 758,983.4 760,983 762,983.4 767.5,986.2 770,986.8 772.5,986.5 777.5,984.4 779.5,984 781.5,984 785.5,985 787,985.1 789,984.9 792.5,984.1 794.5,983.9 797,984.5 801.5,986.6 803.5,987.3 806.5,987.8 810,988 888.5,987.9 893.5,987.4 900,985.4 902.5,985 905,985.3 911.5,987.4 915,987.6 917.5,987.2 919.5,986.3 921.5,984.9 925.5,981.5 927,980.7 928,980.5 929,980.6 930.5,981.3 935,985 937,986.4 939,987.2 941,987.4 943.5,987.2 949.5,985.3 952,985 954.5,985.4 959.5,987.1 962,987.6 965.5,987.9 969,987.7 971,987.3 973,986.5 979,982.6 980.5,982 981.5,981.9 983.5,982.2 987,983.7 988.5,984.1 990.5,984.2 994,983.8 996,984 998,984.6 1002,986.5 1004,987.2 1006.5,987.7 1009,987.9 1012.5,987.8 1015,987.4 1017.5,986.6 1022.5,984.4 1025,984 1027.5,984.5 1032,986.6 1034,987.3 1036.5,987.7 1039,987.9 1112.5,987.9 1115.5,987.7 1118,987.3 1120,986.6 1124.5,984.5 1127,984 1129.5,984.4 1136,987.1 1139.5,987.8 1145,988 1173,988 1173,988"/>
<path d="M35,988 L53,987.9 L56,987.4 L57.5,986.8 L58.5,986.1 L60.5,984.1 L62,981.6 L64,977.1 L68,966 L69.5,963.2 L70.5,962.3 L71,962.2 L71.5,962.5 L72.5,963.6 L76,970.4 L77.5,972.3 L78,972.5 L78.5,972.5 L79,972.2 L80,970.7 L81,967.8 L82,963.4 L84,950.1 L86,931.6 L89.5,894.9 L91,882 L92.5,873.6 L93,872.1 L93.5,871.2 L94,871 L94.5,871.5 L95.5,874.4 L97,883.5 L98.5,896.8 L103,943.5 L105.5,963.2 L106.5,968.8 L108,975 L109.5,978.5 L110,979.2 L111,979.9 L111.5,979.9 L112.5,979.3 L113.5,977.9 L114.5,975.9 L116.5,970.3 L120.5,956.9 L122.5,951.9 L123.5,950.2 L124.5,949.2 L125.5,948.7 L126.5,948.6 L127.5,948.9 L128.5,949.8 L130,952.4 L131.5,956.2 L135.5,968.7 L137.5,973.9 L139.5,977.6 L140.5,978.8 L142,980 L144,980.6 L146,980.7 L155,979.3 L159,979 L164.5,979.6 L176.5,981.9 L179.5,982.2 L181,982 L182.5,981.5 L183.5,980.9 L184.5,979.9 L186,977.6 L187.5,974 L189,968.5 L190.5,960.9 L193,943.1 L198.5,892.4 L200,882.6 L201,878.9 L201.5,878.1 L202,878.3 L202.5,879.3 L203,881 L204.5,889.8 L206,902.5 L211,949.7 L213,963.3 L214,968.4 L215,972.2 L216.5,975.8 L217.5,977.2 L218.5,977.9 L220,978.3 L228.5,979.3 L230.5,980.2 L234,982.5 L235.5,983 L237.5,982.8 L242,980.9 L244.5,980.1 L252.5,978.8 L255,978.1 L260,976.2 L262.5,975.9 L264,976.2 L265.5,976.9 L272,982.1 L273.5,982.9 L275,983.4 L282,983.9 L287.5,985.3 L289.5,985.6 L291.5,985.5 L295.5,984.9 L297.5,984.9 L299.5,985.3 L303.5,986.4 L306,986.5 L308,985.8 L310,984.4 L312,982.1 L316,976.3 L317.5,974.4 L319,973.3 L320.5,973 L321.5,973.2 L322.5,973.9 L327,978.5 L329,979.9 L330.5,980.2 L334.5,979.5 L336.5,979.7 L338.5,980.8 L343.5,985.4 L346,986.9 L347.5,987.4 L349.5,987.8 L354.5,987.8 L358,987.2 L359.5,986.6 L361,985.8 L363.5,983.6 L368.5,977.9 L370,976.6 L371,976.1 L372,975.8 L373.5,976 L378.5,978.4 L380,978.7 L381.5,978.5 L388.5,975.8 L390.5,974.3 L393.5,971.3 L394.5,970.6 L395.5,970.4 L396.5,970.8 L397.5,971.7 L402,978.8 L403.5,980.4 L405,981.3 L407,981.5 L412.5,980.3 L416,980 L425.5,980 L429.5,980.4 L432,981 L434,981.8 L440.5,985.7 L443,986.9 L445.5,987.6 L448,987.9 L450.5,987.8 L453,987.4 L459.5,985.4 L461.5,985 L464,985.2 L470,987.2 L474,987.8 L476.5,987.7 L478.5,987.4 L485,985.4 L487,985 L489,985.1 L494,986.3 L496,986.4 L498.5,985.8 L503.5,983.3 L505.5,983 L506.5,983.1 L508,983.6 L514,986.9 L517,987.6 L519.5,987.7 L522,987.4 L528.5,985.4 L531,985 L533.5,985.4 L539.5,987.2 L542.5,987.4 L544.5,987 L546,986.4 L548,985.1 L552,981.9 L553.5,981.2 L554.5,981 L555.5,981.1 L557,981.8 L561.5,985.3 L564,986.8 L566,987.5 L569,987.9 L600.5,988 L607,987.8 L609,987.5 L611,987 L617,984.1 L619.5,983.5 L620.5,983.6 L622,984 L627,986.4 L630,987.2 L633,987.1 L639,985.3 L641.5,985 L644,985.4 L648.5,986.9 L651,987.5 L654,987.9 L657.5,987.9 L662,987.4 L668,985.4 L670,985 L672.5,985.1 L677,986.1 L679.5,986 L682,984.8 L687,981.1 L688,980.7 L689.5,980.5 L691,980.7 L695,981.7 L700,982.5 L702,983.3 L706.5,986 L708.5,986.9 L711,987.6 L713.5,987.8 L716,987.5 L718.5,986.7 L720.5,985.6 L724.5,982.8 L726.5,982 L728.5,981.8 L732,982.7 L734,982.7 L735.5,982.3 L739,980.7 L740.5,980.4 L741.5,980.4 L743,981 L748,984.9 L749.5,985.7 L750.5,985.9 L751.5,986 L753,985.7 L758,983.4 L760,983 L762,983.4 L767.5,986.2 L770,986.8 L772.5,986.5 L777.5,984.4 L779.5,984 L781.5,984 L785.5,985 L787,985.1 L789,984.9 L792.5,984.1 L794.5,983.9 L797,984.5 L801.5,986.6 L803.5,987.3 L806.5,987.8 L810,988 L888.5,987.9 L893.5,987.4 L900,985.4 L902.5,985 L905,985.3 L911.5,987.4 L915,987.6 L917.5,987.2 L919.5,986.3 L921.5,984.9 L925.5,981.5 L927,980.7 L928,980.5 L929,980.6 L930.5,981.3 L935,985 L937,986.4 L939,987.2 L941,987.4 L943.5,987.2 L949.5,985.3 L952,985 L954.5,985.4 L959.5,987.1 L962,987.6 L965.5,987.9 L969,987.7 L971,987.3 L973,986.5 L979,982.6 L980.5,982 L981.5,981.9 L983.5,982.2 L987,983.7 L988.5,984.1 L990.5,984.2 L994,983.8 L996,984 L998,984.6 L1002,986.5 L1004,987.2 L1006.5,987.7 L1009,987.9 L1012.5,987.8 L1015,987.4 L1017.5,986.6 L1022.5,984.4 L1025,984 L1027.5,984.5 L1032,986.6 L1034,987.3 L1036.5,987.7 L1039,987.9 L1112.5,987.9 L1115.5,987.7 L1118,987.3 L1120,986.6 L1124.5,984.5 L1127,984 L1129.5,984.4 L1136,987.1 L1139.5,987.8 L1145,988 L1173,988" fill="none" stroke="#000" stroke-width="2" stroke-linejoin="round"/>
<line x1="34.0" y1="1" x2="1174.0" y2="1" stroke="#000" stroke-width="2"/>
<line x1="34.0" y1="124" x2="1174.0" y2="124" stroke="#000" stroke-width="2"/>
<line x1="34.0" y1="247" x2="1174.0" y2="247" stroke="#000" stroke-width="2"/>
<line x1="34.0" y1="371" x2="1174.0" y2="371" stroke="#000" stroke-width="2"/>
<line x1="34.0" y1="495" x2="1174.0" y2="495" stroke="#000" stroke-width="2"/>
<line x1="34.0" y1="618" x2="1174.0" y2="618" stroke="#000" stroke-width="2"/>
<line x1="34.0" y1="742" x2="1174.0" y2="742" stroke="#000" stroke-width="2"/>
<line x1="34.0" y1="865" x2="1174.0" y2="865" stroke="#000" stroke-width="2"/>
<line x1="34.0" y1="988" x2="1174.0" y2="988" stroke="#000" stroke-width="2"/>
<line x1="35.0" y1="0" x2="35.0" y2="989" stroke="#000" stroke-width="2"/>
<line x1="1173.0" y1="0" x2="1173.0" y2="989" stroke="#000" stroke-width="2"/>
<line x1="35" y1="988" x2="35" y2="996" stroke="#000" stroke-width="2"/>
<line x1="72.9" y1="988" x2="72.9" y2="992" stroke="#000" stroke-width="2"/>
<line x1="110.9" y1="988" x2="110.9" y2="992" stroke="#000" stroke-width="2"/>
<line x1="148.8" y1="988" x2="148.8" y2="992" stroke="#000" stroke-width="2"/>
<line x1="186.7" y1="988" x2="186.7" y2="992" stroke="#000" stroke-width="2"/>
<line x1="224.7" y1="988" x2="224.7" y2="996" stroke="#000" stroke-width="2"/>
<line x1="262.6" y1="988" x2="262.6" y2="992" stroke="#000" stroke-width="2"/>
<line x1="300.5" y1="988" x2="300.5" y2="992" stroke="#000" stroke-width="2"/>
<line x1="338.5" y1="988" x2="338.5" y2="992" stroke="#000" stroke-width="2"/>
<line x1="376.4" y1="988" x2="376.4" y2="992" stroke="#000" stroke-width="2"/>
<line x1="414.3" y1="988" x2="414.3" y2="996" stroke="#000" stroke-width="2"/>
<line x1="452.3" y1="988" x2="452.3" y2="992" stroke="#000" stroke-width="2"/>
<line x1="490.2" y1="988" x2="490.2" y2="992" stroke="#000" stroke-width="2"/>
<line x1="528.1" y1="988" x2="528.1" y2="992" stroke="#000" stroke-width="2"/>
<line x1="566.1" y1="988" x2="566.1" y2="992" stroke="#000" stroke-width="2"/>
<line x1="604" y1="988" x2="604" y2="996" stroke="#000" stroke-width="2"/>
<line x1="641.9" y1="988" x2="641.9" y2="992" stroke="#000" stroke-width="2"/>
<line x1="679.9" y1="988" x2="679.9" y2="992" stroke="#000" stroke-width="2"/>
<line x1="717.8" y1="988" x2="717.8" y2="992" stroke="#000" stroke-width="2"/>
<line x1="755.7" y1="988" x2="755.7" y2="992" stroke="#000" stroke-width="2"/>
<line x1="793.7" y1="988" x2="793.7" y2="996" stroke="#000" stroke-width="2"/>
<line x1="831.6" y1="988" x2="831.6" y2="992" stroke="#000" stroke-width="2"/>
<line x1="869.5" y1="988" x2="869.5" y2="992" stroke="#000" stroke-width="2"/>
<line x1="907.5" y1="988" x2="907.5" y2="992" stroke="#000" stroke-width="2"/>
<line x1="945.4" y1="988" x2="945.4" y2="992" stroke="#000" stroke-width="2"/>
<line x1="983.3" y1="988" x2="983.3" y2="996" stroke="#000" stroke-width="2"/>
<line x1="1021.3" y1="988" x2="1021.3" y2="992" stroke="#000" stroke-width="2"/>
<line x1="1059.2" y1="988" x2="1059.2" y2="992" stroke="#000" stroke-width="2"/>
<line x1="1097.1" y1="988" x2="1097.1" y2="992" stroke="#000" stroke-width="2"/>
<line x1="1135.1" y1="988" x2="1135.1" y2="992" stroke="#000" stroke-width="2"/>
<line x1="1173" y1="988" x2="1173" y2="996" stroke="#000" stroke-width="2"/>
<text transform="translate(35,1021.3) scale(1,1.06)" text-anchor="middle" font-size="22" fill="#000">0</text>
<text transform="translate(224.7,1021.3) scale(1,1.06)" text-anchor="middle" font-size="22" fill="#000">500</text>
<text transform="translate(414.3,1021.3) scale(1,1.06)" text-anchor="middle" font-size="22" fill="#000">1000</text>
<text transform="translate(604,1021.3) scale(1,1.06)" text-anchor="middle" font-size="22" fill="#000">1500</text>
<text transform="translate(793.7,1021.3) scale(1,1.06)" text-anchor="middle" font-size="22" fill="#000">2000</text>
<text transform="translate(983.3,1021.3) scale(1,1.06)" text-anchor="middle" font-size="22" fill="#000">2500</text>
<text transform="translate(1173,1021.3) scale(1,1.06)" text-anchor="middle" font-size="22" fill="#000">3000</text>
<text x="601" y="1043.2" text-anchor="middle" font-size="22.4" fill="#000">Age (Ma)</text>
<text transform="translate(16.5,579.3) rotate(-90)" font-size="22.5" fill="#000" xml:space="preserve">Relative  probability</text>
<rect x="36" y="1061.5" width="48.5" height="24" fill="#FF6446" stroke="#333" stroke-width="1.2"/>
<text x="95" y="1078.6" font-size="20" fill="#000">0 ~ 200 Ma</text>
<rect x="261" y="1061.5" width="48.5" height="24" fill="#00FF00" stroke="#333" stroke-width="1.2"/>
<text x="320" y="1078.6" font-size="20" fill="#000">200 ~ 360 Ma</text>
<rect x="505" y="1061.5" width="48.5" height="24" fill="#0000FF" stroke="#333" stroke-width="1.2"/>
<text x="564" y="1078.6" font-size="20" fill="#000">360 ~ 600 Ma</text>
<rect x="751" y="1061.5" width="48.5" height="24" fill="#FFA500" stroke="#333" stroke-width="1.2"/>
<text x="810" y="1078.6" font-size="20" fill="#000">600 ~ 1400 Ma</text>
<rect x="1010" y="1061.5" width="48.5" height="24" fill="#A0A0A0" stroke="#333" stroke-width="1.2"/>
<text x="1069" y="1078.6" font-size="20" fill="#000">&gt; 1400 Ma</text>
<rect x="872" y="10.1" width="236" height="75.4" rx="4" fill="#DCDCDC"/>
<text x="990" y="32.5" text-anchor="middle" font-size="20" letter-spacing="1" fill="#231F20" stroke="#fff" stroke-width="2.5" paint-order="stroke" stroke-linejoin="round">East Cathaysia Block</text>
<text x="990" y="55.2" text-anchor="middle" font-size="20" letter-spacing="1" fill="#231F20" stroke="#fff" stroke-width="2.5" paint-order="stroke" stroke-linejoin="round">S=4</text>
<text x="990" y="77.9" text-anchor="middle" font-size="20" letter-spacing="1" fill="#231F20" stroke="#fff" stroke-width="2.5" paint-order="stroke" stroke-linejoin="round">N=81</text>
<circle cx="1161" cy="13.7" r="11.2" fill="#2B2526"/>
<text x="1161" y="20.3" text-anchor="middle" font-size="18" fill="#fff">A</text>
<text x="99.8" y="23.6" font-size="16.5" letter-spacing="1" fill="#000">140</text>
<path d="M1232,65.5 L1232,28.7 A36.8,36.8 0 1 1 1226.9,29.1 Z" fill="#FF6446" stroke="#FF6446" stroke-width="0.6" stroke-linejoin="round"/>
<path d="M1232,65.5 L1226.9,29.1 A36.8,36.8 0 0 1 1229.4,28.8 Z" fill="#00FF00" stroke="#00FF00" stroke-width="0.6" stroke-linejoin="round"/>
<path d="M1232,65.5 L1229.4,28.8 A36.8,36.8 0 0 1 1232,28.7 Z" fill="#0000FF" stroke="#0000FF" stroke-width="0.6" stroke-linejoin="round"/>
<rect x="919" y="134.4" width="187" height="73.1" rx="4" fill="#fff" stroke="#DADADA" stroke-width="2"/>
<text x="1012.5" y="155.5" text-anchor="middle" font-size="20" letter-spacing="1" fill="#231F20" stroke="#fff" stroke-width="2.5" paint-order="stroke" stroke-linejoin="round">Lower Miocene</text>
<text x="1012.5" y="178.2" text-anchor="middle" font-size="20" letter-spacing="1" fill="#231F20" stroke="#fff" stroke-width="2.5" paint-order="stroke" stroke-linejoin="round">S=1</text>
<text x="1012.5" y="200.9" text-anchor="middle" font-size="20" letter-spacing="1" fill="#231F20" stroke="#fff" stroke-width="2.5" paint-order="stroke" stroke-linejoin="round">N=29</text>
<circle cx="1161" cy="136.7" r="11.2" fill="#2B2526"/>
<text x="1161" y="143.3" text-anchor="middle" font-size="18" fill="#fff">B</text>
<text x="102.6" y="148.3" font-size="16.5" letter-spacing="1" fill="#000">140</text>
<path d="M1232,186.3 L1232,149.5 A36.8,36.8 0 1 1 1208.8,157.7 Z" fill="#FF6446" stroke="#FF6446" stroke-width="0.6" stroke-linejoin="round"/>
<path d="M1232,186.3 L1208.8,157.7 A36.8,36.8 0 0 1 1216.4,152.9 Z" fill="#00FF00" stroke="#00FF00" stroke-width="0.6" stroke-linejoin="round"/>
<path d="M1232,186.3 L1216.4,152.9 A36.8,36.8 0 0 1 1224.3,150.3 Z" fill="#0000FF" stroke="#0000FF" stroke-width="0.6" stroke-linejoin="round"/>
<path d="M1232,186.3 L1224.3,150.3 A36.8,36.8 0 0 1 1232,149.5 Z" fill="#A0A0A0" stroke="#A0A0A0" stroke-width="0.6" stroke-linejoin="round"/>
<rect x="919" y="257.6" width="187" height="72.9" rx="4" fill="#fff" stroke="#DADADA" stroke-width="2"/>
<text x="1012.5" y="278.5" text-anchor="middle" font-size="20" letter-spacing="1" fill="#231F20" stroke="#fff" stroke-width="2.5" paint-order="stroke" stroke-linejoin="round">Upper Oligocene</text>
<text x="1012.5" y="301.2" text-anchor="middle" font-size="20" letter-spacing="1" fill="#231F20" stroke="#fff" stroke-width="2.5" paint-order="stroke" stroke-linejoin="round">S=4</text>
<text x="1012.5" y="323.9" text-anchor="middle" font-size="20" letter-spacing="1" fill="#231F20" stroke="#fff" stroke-width="2.5" paint-order="stroke" stroke-linejoin="round">N=171</text>
<circle cx="1161" cy="259.7" r="11.2" fill="#2B2526"/>
<text x="1161" y="266.3" text-anchor="middle" font-size="18" fill="#fff">C</text>
<text x="99.8" y="268.3" font-size="16.5" letter-spacing="1" fill="#000">139</text>
<path d="M1232,315 L1232,278.2 A36.8,36.8 0 1 1 1215,282.4 Z" fill="#FF6446" stroke="#FF6446" stroke-width="0.6" stroke-linejoin="round"/>
<path d="M1232,315 L1215,282.4 A36.8,36.8 0 0 1 1219.4,280.4 Z" fill="#00FF00" stroke="#00FF00" stroke-width="0.6" stroke-linejoin="round"/>
<path d="M1232,315 L1219.4,280.4 A36.8,36.8 0 0 1 1220,280.2 Z" fill="#0000FF" stroke="#0000FF" stroke-width="0.6" stroke-linejoin="round"/>
<path d="M1232,315 L1220,280.2 A36.8,36.8 0 0 1 1227.8,278.4 Z" fill="#FFA500" stroke="#FFA500" stroke-width="0.6" stroke-linejoin="round"/>
<path d="M1232,315 L1227.8,278.4 A36.8,36.8 0 0 1 1232,278.2 Z" fill="#A0A0A0" stroke="#A0A0A0" stroke-width="0.6" stroke-linejoin="round"/>
<rect x="919" y="381.6" width="187" height="72.9" rx="4" fill="#fff" stroke="#DADADA" stroke-width="2"/>
<text x="1012.5" y="402.5" text-anchor="middle" font-size="20" letter-spacing="1" fill="#231F20" stroke="#fff" stroke-width="2.5" paint-order="stroke" stroke-linejoin="round">Lower Oligocene</text>
<text x="1012.5" y="425.2" text-anchor="middle" font-size="20" letter-spacing="1" fill="#231F20" stroke="#fff" stroke-width="2.5" paint-order="stroke" stroke-linejoin="round">S=4</text>
<text x="1012.5" y="447.9" text-anchor="middle" font-size="20" letter-spacing="1" fill="#231F20" stroke="#fff" stroke-width="2.5" paint-order="stroke" stroke-linejoin="round">N=348</text>
<circle cx="1161" cy="383.7" r="11.2" fill="#2B2526"/>
<text x="1161" y="390.3" text-anchor="middle" font-size="18" fill="#fff">D</text>
<text x="98.6" y="390.5" font-size="16.5" letter-spacing="1" fill="#000">140</text>
<text x="115.8" y="467.7" font-size="16.5" letter-spacing="1" fill="#000">246</text>
<text x="186.6" y="468.1" font-size="16.5" letter-spacing="1" fill="#000">436</text>
<path d="M1232,434.5 L1232,397.7 A36.8,36.8 0 1 1 1200.5,453.5 Z" fill="#FF6446" stroke="#FF6446" stroke-width="0.6" stroke-linejoin="round"/>
<path d="M1232,434.5 L1200.5,453.5 A36.8,36.8 0 0 1 1195.2,435.8 Z" fill="#00FF00" stroke="#00FF00" stroke-width="0.6" stroke-linejoin="round"/>
<path d="M1232,434.5 L1195.2,435.8 A36.8,36.8 0 0 1 1198.9,418.4 Z" fill="#0000FF" stroke="#0000FF" stroke-width="0.6" stroke-linejoin="round"/>
<path d="M1232,434.5 L1198.9,418.4 A36.8,36.8 0 0 1 1220,399.7 Z" fill="#FFA500" stroke="#FFA500" stroke-width="0.6" stroke-linejoin="round"/>
<path d="M1232,434.5 L1220,399.7 A36.8,36.8 0 0 1 1232,397.7 Z" fill="#A0A0A0" stroke="#A0A0A0" stroke-width="0.6" stroke-linejoin="round"/>
<rect x="919" y="506.5" width="187" height="72" rx="4" fill="#fff" stroke="#DADADA" stroke-width="2"/>
<text x="1012.5" y="526.5" text-anchor="middle" font-size="20" letter-spacing="1" fill="#231F20" stroke="#fff" stroke-width="2.5" paint-order="stroke" stroke-linejoin="round">Upper Eocene</text>
<text x="1012.5" y="549.2" text-anchor="middle" font-size="20" letter-spacing="1" fill="#231F20" stroke="#fff" stroke-width="2.5" paint-order="stroke" stroke-linejoin="round">S=2</text>
<text x="1012.5" y="571.9" text-anchor="middle" font-size="20" letter-spacing="1" fill="#231F20" stroke="#fff" stroke-width="2.5" paint-order="stroke" stroke-linejoin="round">N=197</text>
<circle cx="1161" cy="507.7" r="11.2" fill="#2B2526"/>
<text x="1161" y="514.3" text-anchor="middle" font-size="18" fill="#fff">E</text>
<text x="102.6" y="516.4" font-size="16.5" letter-spacing="1" fill="#000">153</text>
<text x="124.6" y="571.5" font-size="16.5" letter-spacing="1" fill="#000">255</text>
<text x="193.7" y="574.4" font-size="16.5" letter-spacing="1" fill="#000">441</text>
<path d="M1232,562.2 L1232,525.4 A36.8,36.8 0 0 1 1237.8,598.5 Z" fill="#FF6446" stroke="#FF6446" stroke-width="0.6" stroke-linejoin="round"/>
<path d="M1232,562.2 L1237.8,598.5 A36.8,36.8 0 0 1 1213.6,594.1 Z" fill="#00FF00" stroke="#00FF00" stroke-width="0.6" stroke-linejoin="round"/>
<path d="M1232,562.2 L1213.6,594.1 A36.8,36.8 0 0 1 1195.7,568 Z" fill="#0000FF" stroke="#0000FF" stroke-width="0.6" stroke-linejoin="round"/>
<path d="M1232,562.2 L1195.7,568 A36.8,36.8 0 0 1 1209.9,532.8 Z" fill="#FFA500" stroke="#FFA500" stroke-width="0.6" stroke-linejoin="round"/>
<path d="M1232,562.2 L1209.9,532.8 A36.8,36.8 0 0 1 1232,525.4 Z" fill="#A0A0A0" stroke="#A0A0A0" stroke-width="0.6" stroke-linejoin="round"/>
<rect x="919" y="628.2" width="187" height="73.3" rx="4" fill="#fff" stroke="#DADADA" stroke-width="2"/>
<text x="1012.5" y="649.5" text-anchor="middle" font-size="20" letter-spacing="1" fill="#231F20" stroke="#fff" stroke-width="2.5" paint-order="stroke" stroke-linejoin="round">Middle Eocene</text>
<text x="1012.5" y="672.2" text-anchor="middle" font-size="20" letter-spacing="1" fill="#231F20" stroke="#fff" stroke-width="2.5" paint-order="stroke" stroke-linejoin="round">S=2</text>
<text x="1012.5" y="694.9" text-anchor="middle" font-size="20" letter-spacing="1" fill="#231F20" stroke="#fff" stroke-width="2.5" paint-order="stroke" stroke-linejoin="round">N=123</text>
<circle cx="1161" cy="630.7" r="11.2" fill="#2B2526"/>
<text x="1161" y="637.3" text-anchor="middle" font-size="18" fill="#fff">F</text>
<text x="99.1" y="642.3" font-size="16.5" letter-spacing="1" fill="#000">154</text>
<text x="118" y="706.8" font-size="16.5" letter-spacing="1" fill="#000">249</text>
<text x="216.1" y="641.1" font-size="16.5" letter-spacing="1" fill="#000">445</text>
<path d="M1232,682.9 L1232,646.1 A36.8,36.8 0 0 1 1267.1,694 Z" fill="#FF6446" stroke="#FF6446" stroke-width="0.6" stroke-linejoin="round"/>
<path d="M1232,682.9 L1267.1,694 A36.8,36.8 0 0 1 1252.6,713.4 Z" fill="#00FF00" stroke="#00FF00" stroke-width="0.6" stroke-linejoin="round"/>
<path d="M1232,682.9 L1252.6,713.4 A36.8,36.8 0 0 1 1195.4,686.7 Z" fill="#0000FF" stroke="#0000FF" stroke-width="0.6" stroke-linejoin="round"/>
<path d="M1232,682.9 L1195.4,686.7 A36.8,36.8 0 0 1 1213,651.4 Z" fill="#FFA500" stroke="#FFA500" stroke-width="0.6" stroke-linejoin="round"/>
<path d="M1232,682.9 L1213,651.4 A36.8,36.8 0 0 1 1232,646.1 Z" fill="#A0A0A0" stroke="#A0A0A0" stroke-width="0.6" stroke-linejoin="round"/>
<rect x="919" y="751.8" width="187" height="73.7" rx="4" fill="#fff" stroke="#DADADA" stroke-width="2"/>
<text x="1012.5" y="773.5" text-anchor="middle" font-size="20" letter-spacing="1" fill="#231F20" stroke="#fff" stroke-width="2.5" paint-order="stroke" stroke-linejoin="round">Upper Cretaceous</text>
<text x="1012.5" y="796.2" text-anchor="middle" font-size="20" letter-spacing="1" fill="#231F20" stroke="#fff" stroke-width="2.5" paint-order="stroke" stroke-linejoin="round">S=2</text>
<text x="1012.5" y="818.9" text-anchor="middle" font-size="20" letter-spacing="1" fill="#231F20" stroke="#fff" stroke-width="2.5" paint-order="stroke" stroke-linejoin="round">N=107</text>
<circle cx="1161" cy="754.7" r="11.2" fill="#2B2526"/>
<text x="1161" y="761.3" text-anchor="middle" font-size="18" fill="#fff">G</text>
<text x="51.8" y="790.1" font-size="16.5" letter-spacing="1" fill="#000">108</text>
<text x="103.4" y="762.9" font-size="16.5" letter-spacing="1" fill="#000">158</text>
<text x="124.6" y="802.6" font-size="16.5" letter-spacing="1" fill="#000">250</text>
<text x="207.8" y="763.6" font-size="16.5" letter-spacing="1" fill="#000">430</text>
<path d="M1232,801.7 L1232,764.9 A36.8,36.8 0 0 1 1263.7,820.4 Z" fill="#FF6446" stroke="#FF6446" stroke-width="0.6" stroke-linejoin="round"/>
<path d="M1232,801.7 L1263.7,820.4 A36.8,36.8 0 0 1 1231.4,838.5 Z" fill="#00FF00" stroke="#00FF00" stroke-width="0.6" stroke-linejoin="round"/>
<path d="M1232,801.7 L1231.4,838.5 A36.8,36.8 0 0 1 1195.2,801.5 Z" fill="#0000FF" stroke="#0000FF" stroke-width="0.6" stroke-linejoin="round"/>
<path d="M1232,801.7 L1195.2,801.5 A36.8,36.8 0 0 1 1215.9,768.6 Z" fill="#FFA500" stroke="#FFA500" stroke-width="0.6" stroke-linejoin="round"/>
<path d="M1232,801.7 L1215.9,768.6 A36.8,36.8 0 0 1 1232,764.9 Z" fill="#A0A0A0" stroke="#A0A0A0" stroke-width="0.6" stroke-linejoin="round"/>
<rect x="872" y="873.3" width="236" height="76.2" rx="4" fill="#DCDCDC"/>
<text x="990" y="896.5" text-anchor="middle" font-size="20" letter-spacing="1" fill="#231F20" stroke="#fff" stroke-width="2.5" paint-order="stroke" stroke-linejoin="round">West Cathaysia Block</text>
<text x="990" y="919.2" text-anchor="middle" font-size="20" letter-spacing="1" fill="#231F20" stroke="#fff" stroke-width="2.5" paint-order="stroke" stroke-linejoin="round">S=2</text>
<text x="990" y="941.9" text-anchor="middle" font-size="20" letter-spacing="1" fill="#231F20" stroke="#fff" stroke-width="2.5" paint-order="stroke" stroke-linejoin="round">N=202</text>
<circle cx="1161" cy="877.7" r="11.2" fill="#2B2526"/>
<text x="1161" y="884.3" text-anchor="middle" font-size="18" fill="#fff">H</text>
<text x="101.5" y="887.6" font-size="16.5" letter-spacing="1" fill="#000">156</text>
<text x="112.8" y="943.2" font-size="16.5" letter-spacing="1" fill="#000">238</text>
<text x="214.9" y="894.2" font-size="16.5" letter-spacing="1" fill="#000">440</text>
<path d="M1232,929 L1232,892.2 A36.8,36.8 0 0 1 1268.8,929.6 Z" fill="#FF6446" stroke="#FF6446" stroke-width="0.6" stroke-linejoin="round"/>
<path d="M1232,929 L1268.8,929.6 A36.8,36.8 0 0 1 1257.1,955.9 Z" fill="#00FF00" stroke="#00FF00" stroke-width="0.6" stroke-linejoin="round"/>
<path d="M1232,929 L1257.1,955.9 A36.8,36.8 0 0 1 1204.2,953.1 Z" fill="#0000FF" stroke="#0000FF" stroke-width="0.6" stroke-linejoin="round"/>
<path d="M1232,929 L1204.2,953.1 A36.8,36.8 0 0 1 1205.5,903.4 Z" fill="#FFA500" stroke="#FFA500" stroke-width="0.6" stroke-linejoin="round"/>
<path d="M1232,929 L1205.5,903.4 A36.8,36.8 0 0 1 1232,892.2 Z" fill="#A0A0A0" stroke="#A0A0A0" stroke-width="0.6" stroke-linejoin="round"/>
</svg>
</body></html>
